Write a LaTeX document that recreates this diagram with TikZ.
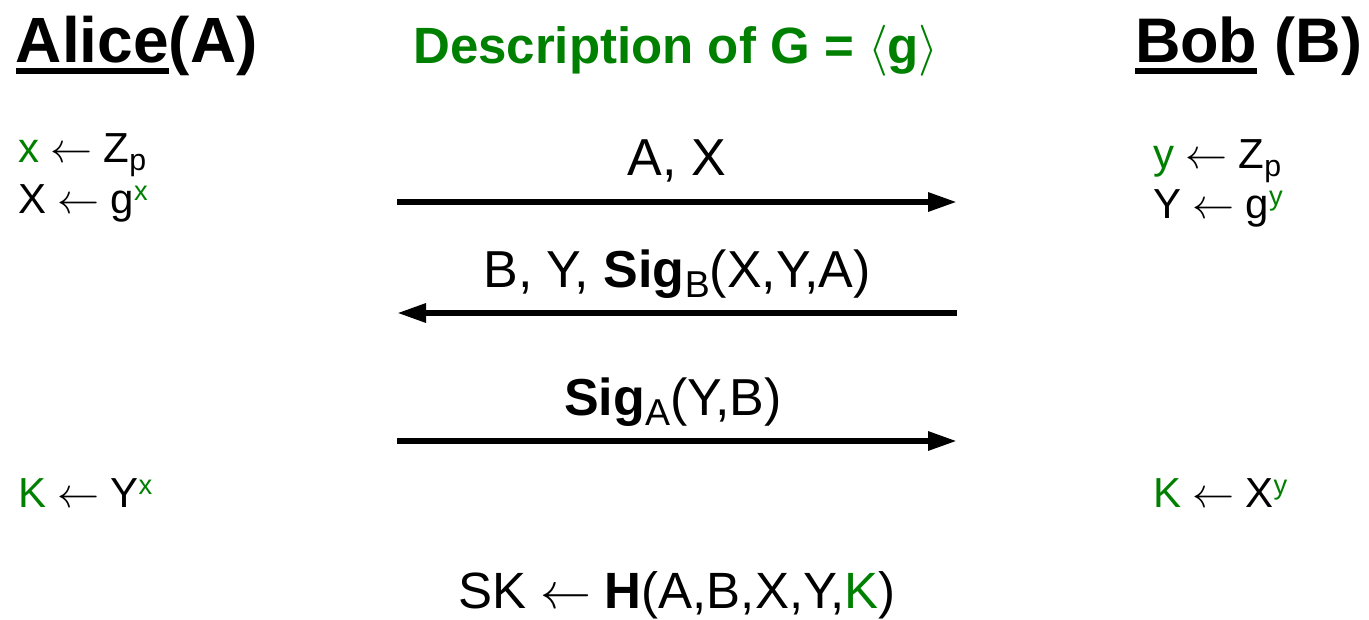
\RequirePackage{fix-cm}
\documentclass[tikz,border=0pt]{standalone}
\usepackage{fontspec}
\setmainfont{Liberation Sans}
\usetikzlibrary{arrows.meta}
\definecolor{grn}{HTML}{008000}
\newcommand\fs[1]{\fontsize{#1}{#1}\selectfont}
\newcommand\mysub[1]{\raisebox{-0.2em}{\scalebox{0.72}{#1}}}
\newcommand\mysup[1]{\raisebox{0.3em}{\scalebox{0.65}{#1}}}
\newcommand\myul[1]{\setbox0\hbox{#1}\rlap{\raisebox{-12pt}{\rule{\wd0}{6pt}}}\box0\relax}
\newcommand\la{\hspace{0.27em}$\leftarrow$\hspace{0.27em}}
\begin{document}
\begin{tikzpicture}[x=1pt,y=-1pt,
  txt/.style={inner sep=0pt,outer sep=0pt,anchor=base west},
  ctr/.style={inner sep=0pt,outer sep=0pt,anchor=base},
  msg/.style={line width=6pt,-{Triangle[length=29pt,width=18pt]}}]
\useasboundingbox (0,0) rectangle (1369,619);
% headers
\node[txt] (alice) at (16,62) {\fs{64}\bfseries\myul{Alice}(A)};
\node[ctr,text=grn] (desc) at (676,63) {\fs{51}\bfseries Description of G = $\langle$g$\rangle$};
\node[txt] (bob) at (1135,62) {\fs{63}\bfseries\myul{Bob} (B)};
% Alice
\node[txt] (a1) at (18,162) {\fs{42}\textcolor{grn}{x}\la Z\mysub{p}};
\node[txt] (a2) at (18,213) {\fs{42}X\la g\mysup{\textcolor{grn}{x}}};
\node[txt] (a3) at (18,507) {\fs{42}\textcolor{grn}{K}\la Y\mysup{\textcolor{grn}{x}}};
% Bob
\node[txt] (b1) at (1153,168) {\fs{42}\textcolor{grn}{y}\la Z\mysub{p}};
\node[txt] (b2) at (1153,218) {\fs{42}Y\la g\mysup{\textcolor{grn}{y}}};
\node[txt] (b3) at (1153,507) {\fs{42}\textcolor{grn}{K}\la X\mysup{\textcolor{grn}{y}}};
% messages
\coordinate (m1l) at (397,202); \coordinate (m1r) at (957,202);
\coordinate (m2l) at (397,313); \coordinate (m2r) at (957,313);
\coordinate (m3l) at (397,441); \coordinate (m3r) at (957,441);
\draw[msg] (m1l) -- (m1r);
\draw[msg] (m2r) -- (m2l);
\draw[msg] (m3l) -- (m3r);
\node[ctr] (l1) at (677,175) {\fs{52}A, X};
\node[ctr] (l2) at (677,287) {\fs{52}B, Y, \textbf{Sig}\mysub{B}(X,Y,A)};
\node[ctr] (l3) at (673,415) {\fs{52}\textbf{Sig}\mysub{A}(Y,B)};
% session key
\node[ctr] (sk) at (677,608) {\fs{51}SK\la\textbf{H}(A,B,X,Y,\textcolor{grn}{K})};
\end{tikzpicture}
\end{document}
